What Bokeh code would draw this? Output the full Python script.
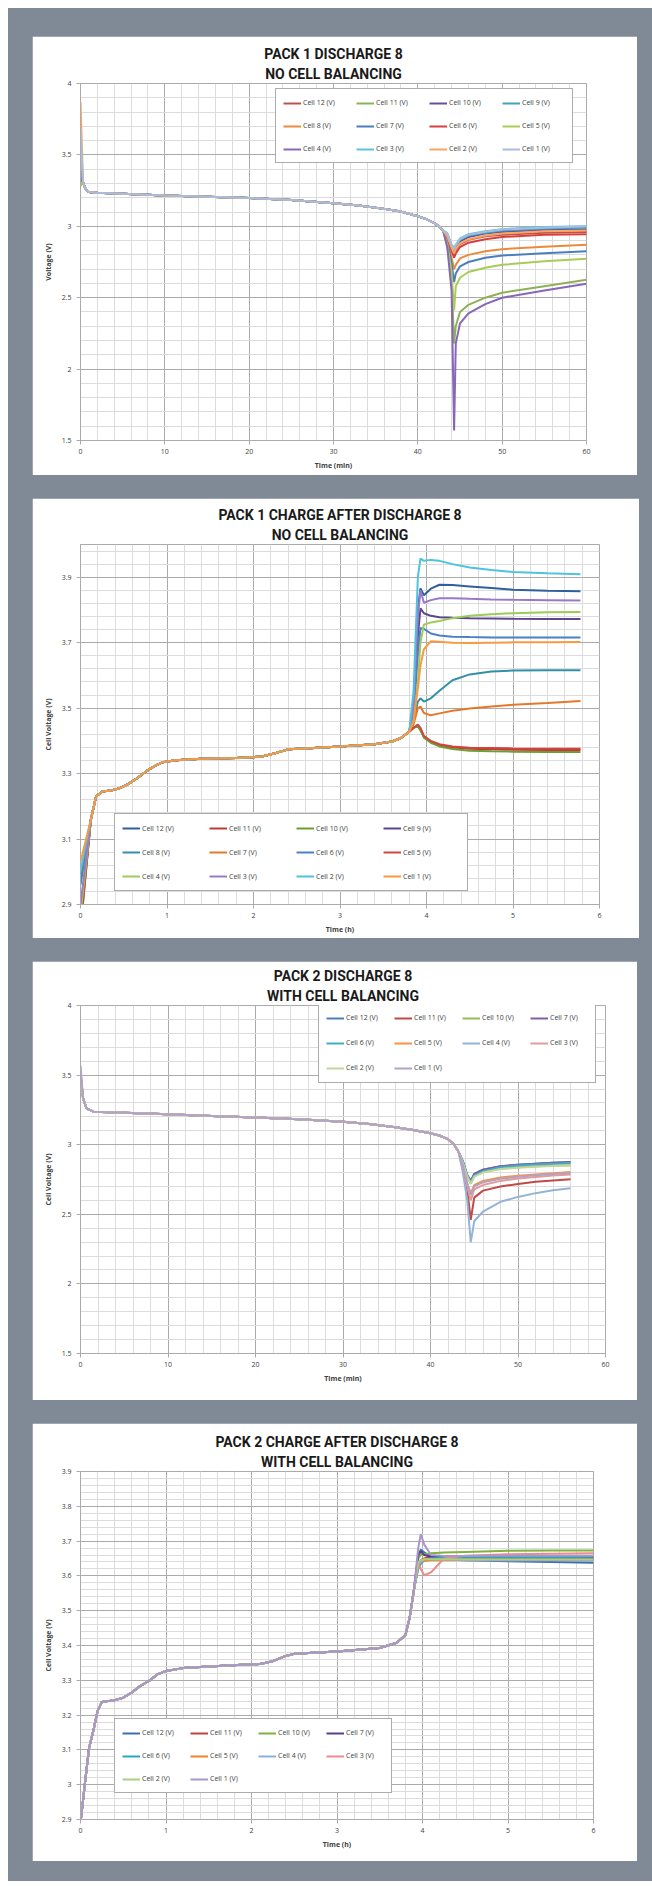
from bokeh.plotting import figure
from bokeh.models import FixedTicker, Legend, LegendItem, Title, Range1d
from bokeh.layouts import column
from bokeh.embed import file_html
from bokeh.resources import INLINE

# ---------------- PANEL 1 : PACK 1 DISCHARGE 8 ----------------
P1_CELLS = ["Cell 12 (V)", "Cell 11 (V)", "Cell 10 (V)", "Cell 9 (V)", "Cell 8 (V)", "Cell 7 (V)",
            "Cell 6 (V)", "Cell 5 (V)", "Cell 4 (V)", "Cell 3 (V)", "Cell 2 (V)", "Cell 1 (V)"]
P1_COLORS = ["#C0504D", "#8DB255", "#6A4C9C", "#3FA3C0", "#EB8A3C", "#4A7EC0",
             "#D8403C", "#A8CC58", "#8866B8", "#58C4E2", "#FAA65E", "#A9BCDD"]
P1_START = [3.38, 3.30, 3.35, 3.40, 3.45, 3.42, 3.38, 3.28, 3.36, 3.55, 3.87, 3.68]
P1_COMMON_T = [0.3, 0.6, 1, 2, 5, 10, 15, 20, 25, 30, 33, 36, 38, 40, 41, 42, 42.5, 43]
P1_COMMON_V = [3.31, 3.26, 3.24, 3.235, 3.228, 3.215, 3.207, 3.198, 3.185, 3.162, 3.145, 3.122,
               3.103, 3.07, 3.05, 3.02, 3.0, 2.97]
P1_TAIL_T = [43.5, 44.0, 44.3, 44.5, 45, 46, 48, 50, 55, 60]
P1_C12 = [2.92, 2.84, 2.80, 2.83, 2.875, 2.905, 2.93, 2.94, 2.955, 2.96]
P1_C11 = [2.86, 2.62, 2.18, 2.30, 2.40, 2.45, 2.50, 2.535, 2.58, 2.625]
P1_C10 = [2.93, 2.85, 2.82, 2.85, 2.895, 2.925, 2.95, 2.96, 2.975, 2.98]
P1_C9 = [2.94, 2.86, 2.83, 2.86, 2.905, 2.935, 2.955, 2.97, 2.985, 2.99]
P1_C8 = [2.90, 2.78, 2.70, 2.73, 2.775, 2.80, 2.825, 2.84, 2.857, 2.87]
P1_C7 = [2.89, 2.74, 2.61, 2.67, 2.72, 2.75, 2.78, 2.795, 2.812, 2.826]
P1_C6 = [2.92, 2.83, 2.78, 2.81, 2.855, 2.885, 2.91, 2.925, 2.94, 2.945]
P1_C5 = [2.87, 2.68, 2.41, 2.58, 2.64, 2.68, 2.71, 2.73, 2.755, 2.772]
P1_C4 = [2.85, 2.55, 1.57, 2.18, 2.32, 2.39, 2.455, 2.50, 2.55, 2.597]
P1_C3 = [2.95, 2.87, 2.85, 2.87, 2.915, 2.945, 2.965, 2.98, 2.995, 3.00]
P1_C2 = [2.93, 2.85, 2.81, 2.84, 2.88, 2.91, 2.935, 2.95, 2.965, 2.97]
P1_C1 = [2.95, 2.87, 2.84, 2.87, 2.91, 2.94, 2.962, 2.978, 2.99, 3.00]
P1_TAILS = [P1_C12, P1_C11, P1_C10, P1_C9, P1_C8, P1_C7, P1_C6, P1_C5, P1_C4, P1_C3, P1_C2, P1_C1]

# ---------------- PANEL 2 : PACK 1 CHARGE ----------------
P2_CELLS = ["Cell 12 (V)", "Cell 11 (V)", "Cell 10 (V)", "Cell 9 (V)", "Cell 8 (V)", "Cell 7 (V)",
            "Cell 6 (V)", "Cell 5 (V)", "Cell 4 (V)", "Cell 3 (V)", "Cell 2 (V)", "Cell 1 (V)"]
P2_COLORS = ["#2F5F9E", "#BE3A37", "#6C9E35", "#5E4590", "#3090AA", "#E5782A",
             "#4A80C4", "#D24440", "#9CCB5A", "#9A78C8", "#4EC3DE", "#F99A40"]
P2_START = [2.86, 2.84, 2.82, 2.86, 2.96, 2.88, 2.99, 2.83, 2.87, 2.90, 3.00, 3.03]
P2_COMMON_T = [0.12, 0.18, 0.25, 0.35, 0.45, 0.55, 0.65, 0.75, 0.85, 0.95, 1.1, 1.4, 1.8, 2.1,
               2.25, 2.4, 2.6, 3.0, 3.4, 3.6, 3.7, 3.8]
P2_COMMON_V = [3.16, 3.23, 3.245, 3.248, 3.255, 3.268, 3.285, 3.305, 3.322, 3.335, 3.341, 3.345,
               3.348, 3.352, 3.362, 3.374, 3.377, 3.383, 3.39, 3.398, 3.408, 3.428]
P2_TAIL_T = [3.85, 3.9, 3.93, 3.97, 4.05, 4.15, 4.3, 4.5, 4.75, 5.0, 5.4, 5.78]
P2_C12 = [3.50, 3.80, 3.866, 3.845, 3.865, 3.877, 3.876, 3.872, 3.867, 3.862, 3.859, 3.857]
P2_C11 = [3.44, 3.445, 3.435, 3.412, 3.397, 3.387, 3.380, 3.376, 3.374, 3.373, 3.372, 3.372]
P2_C10 = [3.44, 3.445, 3.432, 3.410, 3.394, 3.383, 3.375, 3.370, 3.368, 3.367, 3.366, 3.366]
P2_C9 = [3.48, 3.72, 3.805, 3.790, 3.782, 3.778, 3.776, 3.775, 3.774, 3.773, 3.772, 3.772]
P2_C8 = [3.46, 3.52, 3.530, 3.520, 3.530, 3.553, 3.585, 3.603, 3.612, 3.615, 3.616, 3.616]
P2_C7 = [3.45, 3.50, 3.505, 3.485, 3.478, 3.484, 3.492, 3.499, 3.505, 3.510, 3.516, 3.522]
P2_C6 = [3.48, 3.66, 3.745, 3.742, 3.728, 3.722, 3.718, 3.717, 3.716, 3.716, 3.716, 3.716]
P2_C5 = [3.44, 3.45, 3.440, 3.415, 3.400, 3.390, 3.383, 3.379, 3.378, 3.377, 3.376, 3.376]
P2_C4 = [3.46, 3.58, 3.700, 3.755, 3.762, 3.766, 3.775, 3.782, 3.787, 3.790, 3.793, 3.794]
P2_C3 = [3.50, 3.78, 3.860, 3.822, 3.830, 3.836, 3.836, 3.834, 3.832, 3.831, 3.830, 3.829]
P2_C2 = [3.55, 3.90, 3.957, 3.950, 3.953, 3.950, 3.940, 3.930, 3.922, 3.916, 3.912, 3.909]
P2_C1 = [3.46, 3.56, 3.630, 3.680, 3.704, 3.703, 3.700, 3.699, 3.700, 3.701, 3.701, 3.702]
P2_TAILS = [P2_C12, P2_C11, P2_C10, P2_C9, P2_C8, P2_C7, P2_C6, P2_C5, P2_C4, P2_C3, P2_C2, P2_C1]

# ---------------- PANEL 3 : PACK 2 DISCHARGE ----------------
P3_CELLS = ["Cell 12 (V)", "Cell 11 (V)", "Cell 10 (V)", "Cell 7 (V)", "Cell 6 (V)",
            "Cell 5 (V)", "Cell 4 (V)", "Cell 3 (V)", "Cell 2 (V)", "Cell 1 (V)"]
P3_COLORS = ["#4A7EBB", "#BE4B48", "#98B954", "#7D60A0", "#46AAC5",
             "#F69240", "#95B3D7", "#E39B99", "#C3D69B", "#B3A2C7"]
P3_START = [3.50, 3.48, 3.50, 3.52, 3.50, 3.48, 3.46, 3.50, 3.52, 3.57]
P3_COMMON_T = [0.3, 0.7, 1.5, 5, 10, 15, 20, 25, 30, 33, 36, 38, 40, 41, 42, 42.7, 43.2]
P3_COMMON_V = [3.33, 3.26, 3.237, 3.23, 3.218, 3.207, 3.196, 3.183, 3.165, 3.148, 3.125, 3.105,
               3.082, 3.066, 3.04, 3.0, 2.95]
P3_TAIL_T = [43.7, 44.2, 44.6, 45, 46, 48, 50, 52, 54, 56]
P3_C12 = [2.88, 2.78, 2.74, 2.79, 2.82, 2.845, 2.856, 2.864, 2.870, 2.876]
P3_C11 = [2.83, 2.68, 2.46, 2.62, 2.67, 2.700, 2.718, 2.733, 2.743, 2.752]
P3_C10 = [2.87, 2.77, 2.72, 2.775, 2.805, 2.828, 2.838, 2.845, 2.850, 2.853]
P3_C7 = [2.88, 2.78, 2.74, 2.79, 2.82, 2.845, 2.856, 2.864, 2.870, 2.874]
P3_C6 = [2.88, 2.78, 2.73, 2.78, 2.81, 2.838, 2.850, 2.858, 2.864, 2.868]
P3_C5 = [2.85, 2.72, 2.65, 2.71, 2.74, 2.765, 2.777, 2.786, 2.795, 2.803]
P3_C4 = [2.80, 2.60, 2.30, 2.45, 2.52, 2.590, 2.625, 2.652, 2.672, 2.687]
P3_C3 = [2.84, 2.70, 2.60, 2.68, 2.71, 2.740, 2.757, 2.768, 2.778, 2.786]
P3_C2 = [2.87, 2.77, 2.72, 2.77, 2.80, 2.825, 2.835, 2.842, 2.847, 2.850]
P3_C1 = [2.85, 2.72, 2.64, 2.70, 2.73, 2.755, 2.770, 2.780, 2.790, 2.797]
P3_TAILS = [P3_C12, P3_C11, P3_C10, P3_C7, P3_C6, P3_C5, P3_C4, P3_C3, P3_C2, P3_C1]

# ---------------- PANEL 4 : PACK 2 CHARGE ----------------
P4_CELLS = P3_CELLS
P4_COLORS = ["#3A6FB0", "#C0413D", "#7FB23E", "#5A3F8A", "#29A5C8",
             "#F27F22", "#8DAEDC", "#EB8C8A", "#A9D07A", "#A896CC"]
P4_COMMON_T = [0.0, 0.05, 0.1, 0.15, 0.2, 0.25, 0.4, 0.5, 0.6, 0.7, 0.8, 0.9, 1.0, 1.2, 1.5, 2.0,
               2.1, 2.25, 2.4, 2.5, 3.0, 3.5, 3.7, 3.8, 3.85, 3.9]
P4_COMMON_V = [2.89, 3.0, 3.105, 3.155, 3.212, 3.238, 3.243, 3.25, 3.265, 3.284, 3.298, 3.317,
               3.327, 3.335, 3.34, 3.346, 3.347, 3.355, 3.37, 3.376, 3.383, 3.393, 3.408, 3.43,
               3.48, 3.56]
P4_TAIL_T = [3.95, 3.98, 4.02, 4.1, 4.25, 4.5, 5.0, 5.5, 6.0]
P4_C12 = [3.66, 3.675, 3.668, 3.655, 3.648, 3.645, 3.642, 3.640, 3.638]
P4_C11 = [3.64, 3.645, 3.650, 3.655, 3.656, 3.655, 3.655, 3.654, 3.654]
P4_C10 = [3.65, 3.66, 3.662, 3.665, 3.667, 3.669, 3.672, 3.673, 3.673]
P4_C7 = [3.66, 3.67, 3.660, 3.655, 3.652, 3.650, 3.650, 3.650, 3.650]
P4_C6 = [3.62, 3.635, 3.645, 3.650, 3.652, 3.653, 3.654, 3.654, 3.655]
P4_C5 = [3.63, 3.64, 3.643, 3.645, 3.645, 3.645, 3.645, 3.645, 3.645]
P4_C4 = [3.63, 3.64, 3.648, 3.648, 3.647, 3.646, 3.645, 3.645, 3.645]
P4_C3 = [3.64, 3.62, 3.602, 3.610, 3.650, 3.658, 3.662, 3.664, 3.665]
P4_C2 = [3.64, 3.645, 3.648, 3.648, 3.648, 3.648, 3.648, 3.648, 3.648]
P4_C1 = [3.68, 3.72, 3.690, 3.660, 3.657, 3.657, 3.658, 3.658, 3.658]
P4_TAILS = [P4_C12, P4_C11, P4_C10, P4_C7, P4_C6, P4_C5, P4_C4, P4_C3, P4_C2, P4_C1]

# ---------------- ticks ----------------
X60_TICKS = [0, 10, 20, 30, 40, 50, 60]
X60_MINOR = list(range(0, 61, 2))
X6_TICKS = [0, 1, 2, 3, 4, 5, 6]
X6_MINOR = [i / 5 for i in range(0, 31)]
Y15_TICKS = [1.5, 2, 2.5, 3, 3.5, 4]
Y15_LABELS = ["1.5", "2", "2.5", "3", "3.5", "4"]
Y15_MINOR = [round(1.5 + i * 0.1, 2) for i in range(0, 26)]
Y29_TICKS = [2.9, 3.1, 3.3, 3.5, 3.7, 3.9]
Y29_LABELS = ["2.9", "3.1", "3.3", "3.5", "3.7", "3.9"]
Y29_MINOR = [round(2.9 + i * 0.04, 2) for i in range(0, 28)]
Y39_TICKS = [2.9, 3.0, 3.1, 3.2, 3.3, 3.4, 3.5, 3.6, 3.7, 3.8, 3.9]
Y39_LABELS = ["2.9", "3", "3.1", "3.2", "3.3", "3.4", "3.5", "3.6", "3.7", "3.8", "3.9"]
Y39_MINOR = [round(2.9 + i * 0.02, 2) for i in range(0, 51)]

TXT = "#404040"
MAJOR = "#ababab"
MINOR = "#dcdcdc"


def panel(t1, t2, xr, yr, xt, xm, yt, ylab, ym, xlabel, ylabel, fw, fh, borders,
          cells, colors, xs_list, ys_list, leg_loc, leg_w, leg_h, title_off=0):
    bl, br, bt, bb = borders
    p = figure(output_backend="svg", toolbar_location=None, frame_width=fw, frame_height=fh,
               x_range=Range1d(*xr), y_range=Range1d(*yr),
               min_border_left=bl, min_border_right=br, min_border_top=bt, min_border_bottom=bb,
               border_fill_color="white", background_fill_color="white",
               outline_line_color=MAJOR)
    # first line (outermost)
    p.title.text = t1
    p.title.align = "center"
    p.title.text_font = "Roboto"
    p.title.text_font_size = "14px"
    p.title.text_font_style = "bold"
    p.title.text_color = "#1a1a1a"
    p.title.standoff = 1
    p.title.offset = title_off
    # second line (next to the plot)
    p.add_layout(Title(text=t2, align="center", text_font="Roboto", text_font_size="14px",
                       text_font_style="bold", text_color="#1a1a1a", standoff=3,
                       offset=title_off), "above")

    p.xaxis.ticker = FixedTicker(ticks=xt, minor_ticks=xm)
    p.yaxis.ticker = FixedTicker(ticks=yt, minor_ticks=ym)
    p.yaxis.major_label_overrides = {v: s for v, s in zip(yt, ylab)}
    for ax in (p.xaxis[0], p.yaxis[0]):
        ax.axis_line_color = MAJOR
        ax.major_tick_line_color = MAJOR
        ax.major_tick_out = 4
        ax.major_tick_in = 0
        ax.minor_tick_line_color = None
        ax.major_label_text_font = "Open Sans"
        ax.major_label_text_font_size = "7px"
        ax.major_label_text_color = TXT
        ax.axis_label_text_font = "Open Sans"
        ax.axis_label_text_font_size = "7px"
        ax.axis_label_text_font_style = "bold"
        ax.axis_label_text_color = TXT
    p.xaxis.axis_label = xlabel
    p.yaxis.axis_label = ylabel
    p.xaxis.major_label_standoff = 4
    p.yaxis.major_label_standoff = 5
    p.xaxis.axis_label_standoff = 4
    p.yaxis.axis_label_standoff = 6
    p.grid.grid_line_color = MAJOR
    p.grid.minor_grid_line_color = MINOR
    p.grid.level = "underlay"

    items = []
    for name, c, xs, ys in zip(cells, colors, xs_list, ys_list):
        r = p.line(xs, ys, line_color=c, line_width=2)
        items.append(LegendItem(label=name, renderers=[r]))
    lg = Legend(items=items, location=leg_loc, orientation="horizontal", ncols=4,
                label_text_font="Open Sans", label_text_font_size="7px", label_text_color=TXT,
                glyph_width=18, glyph_height=12, label_width=leg_w, label_height=leg_h,
                label_standoff=2, spacing=10, padding=7, margin=0,
                border_line_color="#595959", border_line_width=1,
                background_fill_color="white", background_fill_alpha=1.0)
    p.add_layout(lg)
    return p


xs1 = [[0] + P1_COMMON_T + P1_TAIL_T for _ in P1_CELLS]
ys1 = [[s] + P1_COMMON_V + tail for s, tail in zip(P1_START, P1_TAILS)]
xs2 = [[0] + P2_COMMON_T + P2_TAIL_T for _ in P2_CELLS]
ys2 = [[s] + P2_COMMON_V + tail for s, tail in zip(P2_START, P2_TAILS)]
xs3 = [[0] + P3_COMMON_T + P3_TAIL_T for _ in P3_CELLS]
ys3 = [[s] + P3_COMMON_V + tail for s, tail in zip(P3_START, P3_TAILS)]
xs4 = [P4_COMMON_T + P4_TAIL_T for _ in P4_CELLS]
ys4 = [P4_COMMON_V + tail for tail in P4_TAILS]

p1 = panel("PACK 1 DISCHARGE 8", "NO CELL BALANCING", (0, 60), (1.5, 4), X60_TICKS, X60_MINOR,
           Y15_TICKS, Y15_LABELS, Y15_MINOR, "Time (min)", "Voltage (V)", 506, 357,
           (48, 51, 47, 35), P1_CELLS, P1_COLORS, xs1, ys1, (195, 277), 43, 13)
p2 = panel("PACK 1 CHARGE AFTER DISCHARGE 8", "NO CELL BALANCING", (0, 6), (2.9, 4.0), X6_TICKS,
           X6_MINOR, Y29_TICKS, Y29_LABELS, Y29_MINOR, "Time (h)", "Cell Voltage (V)", 519, 360,
           (38, 48, 46, 34), P2_CELLS, P2_COLORS, xs2, ys2, (34, 13), 57, 14, title_off=-15)
p3 = panel("PACK 2 DISCHARGE 8", "WITH CELL BALANCING", (0, 60), (1.5, 4), X60_TICKS, X60_MINOR,
           Y15_TICKS, Y15_LABELS, Y15_MINOR, "Time (min)", "Cell Voltage (V)", 525, 348,
           (43, 37, 44, 47), P3_CELLS, P3_COLORS, xs3, ys3, (238, 270), 38, 15)
p4 = panel("PACK 2 CHARGE AFTER DISCHARGE 8", "WITH CELL BALANCING", (0, 6), (2.9, 3.9), X6_TICKS,
           X6_MINOR, Y39_TICKS, Y39_LABELS, Y39_MINOR, "Time (h)", "Cell Voltage (V)", 513, 348,
           (43, 49, 48, 42), P4_CELLS, P4_COLORS, xs4, ys4, (34, 26), 38, 13)

layout = column(p1, p2, p3, p4, spacing=23,
                styles={"background-color": "#808a97", "padding": "28px 15px 20px 24px",
                        "margin": "8px 0px 0px 8px"})

open("out.html", "w").write(file_html(layout, INLINE))
